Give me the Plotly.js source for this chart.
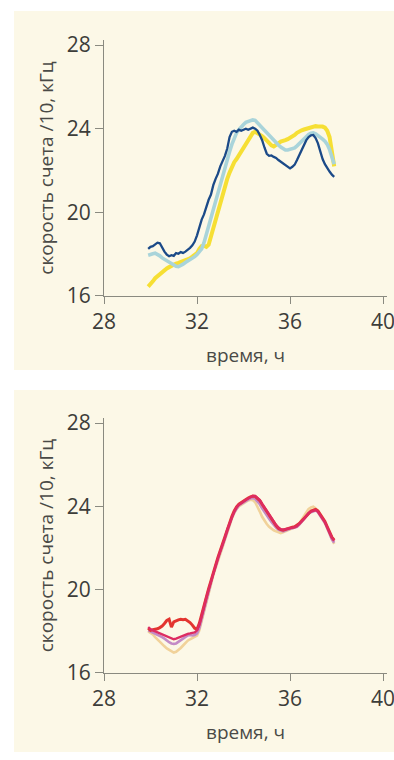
<!DOCTYPE html>
<html>
<head>
<meta charset="utf-8">
<script src="https://cdn.plot.ly/plotly-3.0.1.min.js"></script>
<style>
html,body{margin:0;padding:0;background:#ffffff;}
#chart{width:394px;height:760px;}
</style>
</head>
<body>
<div id="chart"></div>
<script>
// time axis, hours
const hours = [29.9,30.0,30.1,30.2,30.3,30.4,30.5,30.6,30.7,30.8,30.9,31.0,31.1,31.2,31.3,31.4,31.5,31.6,31.7,31.8,31.9,32.0,32.1,32.2,32.3,32.4,32.5,32.6,32.7,32.8,32.9,33.0,33.1,33.2,33.3,33.4,33.5,33.6,33.7,33.8,33.9,34.0,34.1,34.2,34.3,34.4,34.5,34.6,34.7,34.8,34.9,35.0,35.1,35.2,35.3,35.4,35.5,35.6,35.7,35.8,35.9,36.0,36.1,36.2,36.3,36.4,36.5,36.6,36.7,36.8,36.9,37.0,37.1,37.2,37.3,37.4,37.5,37.6,37.7,37.8,37.9];

// top panel
const topDarkBlue = [18.25,18.35,18.38,18.45,18.55,18.52,18.28,18.12,17.98,17.9,17.95,17.92,18.05,18.02,18.1,18.06,18.12,18.2,18.3,18.42,18.6,18.9,19.3,19.65,19.9,20.3,20.6,20.85,21.3,21.6,21.85,22.2,22.45,22.7,23.05,23.6,23.85,23.9,23.85,23.95,23.9,23.95,24.0,23.95,24.02,24.05,24.0,23.9,23.7,23.45,23.1,22.8,22.7,22.72,22.65,22.6,22.5,22.42,22.35,22.25,22.2,22.1,22.18,22.28,22.5,22.75,23.0,23.25,23.45,23.6,23.68,23.7,23.55,23.3,22.9,22.55,22.3,22.1,21.95,21.8,21.7];
const topLightBlue = [17.95,18.0,18.02,18.05,18.0,17.92,17.82,17.75,17.65,17.58,17.52,17.48,17.42,17.4,17.45,17.52,17.6,17.66,17.72,17.8,17.88,17.98,18.1,18.25,18.55,18.95,19.4,19.85,20.25,20.65,21.0,21.4,21.8,22.2,22.55,22.9,23.25,23.55,23.8,23.95,24.1,24.2,24.3,24.35,24.38,24.42,24.4,24.28,24.12,24.0,23.88,23.78,23.68,23.55,23.42,23.32,23.22,23.12,23.05,22.98,22.98,23.0,23.02,23.08,23.18,23.3,23.42,23.52,23.62,23.72,23.78,23.8,23.75,23.68,23.6,23.5,23.4,23.25,23.0,22.7,22.3];
const topYellow = [16.45,16.55,16.7,16.85,16.95,17.05,17.15,17.25,17.32,17.38,17.45,17.5,17.55,17.58,17.62,17.65,17.7,17.72,17.8,17.88,17.95,18.05,18.25,18.38,18.4,18.35,18.45,18.85,19.3,19.7,20.1,20.45,20.85,21.25,21.6,21.9,22.2,22.4,22.55,22.72,22.88,23.05,23.22,23.4,23.62,23.8,23.85,23.8,23.72,23.65,23.55,23.42,23.3,23.2,23.15,23.2,23.3,23.38,23.4,23.45,23.5,23.55,23.62,23.7,23.8,23.88,23.92,23.96,24.0,24.05,24.08,24.1,24.12,24.1,24.12,24.1,24.05,23.9,23.6,23.0,22.2];

// bottom panel
const botPeach = [18.0,17.92,17.85,17.72,17.6,17.48,17.38,17.28,17.18,17.1,17.02,16.98,17.02,17.1,17.2,17.32,17.45,17.55,17.62,17.68,17.72,17.8,18.05,18.5,19.0,19.45,19.88,20.3,20.7,21.05,21.42,21.75,22.05,22.4,22.78,23.1,23.42,23.68,23.88,24.0,24.08,24.15,24.22,24.28,24.32,24.3,24.2,24.0,23.75,23.5,23.3,23.15,23.02,22.92,22.85,22.8,22.75,22.72,22.75,22.8,22.88,22.92,22.95,22.98,23.05,23.18,23.35,23.55,23.75,23.88,23.95,23.98,23.9,23.75,23.58,23.4,23.2,22.95,22.65,22.4,22.2];
const botLilac = [18.05,18.0,17.95,17.9,17.85,17.8,17.72,17.65,17.55,17.48,17.42,17.4,17.42,17.5,17.58,17.65,17.75,17.8,17.82,17.8,17.82,17.9,18.15,18.6,19.1,19.55,19.95,20.35,20.75,21.1,21.48,21.8,22.1,22.45,22.82,23.15,23.45,23.7,23.9,24.05,24.12,24.2,24.28,24.32,24.38,24.4,24.36,24.25,24.1,23.9,23.72,23.55,23.4,23.25,23.1,22.98,22.88,22.82,22.8,22.84,22.9,22.92,22.95,22.98,23.02,23.12,23.25,23.38,23.52,23.65,23.72,23.78,23.8,23.72,23.55,23.38,23.2,22.95,22.65,22.42,22.25];
const botRed = [18.15,18.05,18.08,18.1,18.12,18.18,18.25,18.38,18.52,18.58,18.2,18.45,18.52,18.55,18.58,18.56,18.58,18.52,18.42,18.3,18.15,18.1,18.38,18.8,19.25,19.6,20.05,20.42,20.85,21.18,21.55,21.88,22.2,22.55,22.9,23.25,23.52,23.78,23.98,24.1,24.18,24.28,24.35,24.4,24.46,24.5,24.48,24.4,24.28,24.1,23.92,23.75,23.58,23.4,23.22,23.08,22.95,22.88,22.86,22.9,22.95,22.98,23.0,23.02,23.08,23.18,23.3,23.42,23.58,23.7,23.78,23.82,23.85,23.78,23.62,23.45,23.28,23.02,22.72,22.52,22.38];
const botCrimson = [18.2,18.1,18.05,18.0,17.95,17.9,17.85,17.8,17.75,17.7,17.65,17.62,17.65,17.7,17.75,17.8,17.85,17.88,17.9,17.92,17.95,18.05,18.3,18.72,19.2,19.62,20.0,20.4,20.8,21.15,21.52,21.85,22.15,22.5,22.88,23.2,23.5,23.75,23.95,24.08,24.15,24.25,24.32,24.38,24.45,24.5,24.5,24.42,24.3,24.12,23.95,23.76,23.6,23.42,23.25,23.1,22.98,22.9,22.88,22.9,22.94,22.96,22.98,23.0,23.05,23.15,23.28,23.4,23.55,23.68,23.75,23.8,23.82,23.75,23.6,23.42,23.25,23.0,22.7,22.5,22.35];

const xTicks = [28, 32, 36, 40];
const yTicks = [16, 20, 24, 28];
const xTitle = 'время, ч';
const yTitle = 'скорость счета /10, кГц';

const FONT = '"Open Sans", "Noto Sans", sans-serif';
const AXCOL = '#8a8a80';

function line(y, color, width, xa, ya) {
  return {x: hours, y: y, type: 'scatter', mode: 'lines', xaxis: xa, yaxis: ya,
          line: {color: color, width: width}, hoverinfo: 'skip', showlegend: false};
}

const data = [
  line(topYellow, '#f6df34', 4, 'x', 'y'),
  line(topLightBlue, '#a9d4da', 3.6, 'x', 'y'),
  line(topDarkBlue, '#1b4a88', 2.3, 'x', 'y'),
  line(botPeach, '#f1d29a', 2.6, 'x2', 'y2'),
  line(botLilac, '#c38bc6', 2.6, 'x2', 'y2'),
  line(botRed, '#e3342f', 3, 'x2', 'y2'),
  line(botCrimson, '#dd2c62', 2.4, 'x2', 'y2')
];

function xax(anchor) {
  return {anchor: anchor, domain: [0, 1], range: [28, 40.17], tickvals: xTicks,
    ticktext: xTicks.map(String), showline: true, linecolor: AXCOL, linewidth: 1,
    ticks: 'outside', ticklen: 7, tickcolor: AXCOL, tickwidth: 1, showgrid: false,
    zeroline: false, ticklabeloverflow: 'allow',
    tickfont: {family: FONT, size: 21, color: '#3d3d3a'},
    title: {text: xTitle, font: {family: FONT, size: 19, color: '#4a4a46'}, standoff: 14}};
}
function yax(anchor, dom) {
  return {anchor: anchor, domain: dom, range: [16, 28.24], tickvals: yTicks,
    ticktext: yTicks.map(String), showline: true, linecolor: AXCOL, linewidth: 1,
    ticks: 'outside', ticklen: 8, tickcolor: AXCOL, tickwidth: 1, showgrid: false,
    zeroline: false, ticklabeloverflow: 'allow',
    tickfont: {family: FONT, size: 21, color: '#3d3d3a'},
    title: {text: yTitle, font: {family: FONT, size: 19, color: '#4a4a46'}, standoff: 8}};
}

const layout = {
  width: 394, height: 760,
  margin: {l: 104, r: 7, t: 40, b: 87},
  paper_bgcolor: '#ffffff', plot_bgcolor: 'rgba(0,0,0,0)',
  font: {family: FONT},
  xaxis: xax('y'),
  yaxis: yax('x', [0.5956, 1]),
  xaxis2: xax('y2'),
  yaxis2: yax('x2', [0, 0.4028]),
  shapes: [
    {type: 'rect', xref: 'paper', yref: 'paper', x0: -0.318, x1: 1.05, y0: 0.4787, y1: 1.0458,
     fillcolor: '#fcf8e7', line: {width: 0}, layer: 'below'},
    {type: 'rect', xref: 'paper', yref: 'paper', x0: -0.318, x1: 1.05, y0: -0.1248, y1: 0.4471,
     fillcolor: '#fcf8e7', line: {width: 0}, layer: 'below'}
  ]
};

Plotly.newPlot('chart', data, layout, {staticPlot: true, displayModeBar: false});
</script>
</body>
</html>
